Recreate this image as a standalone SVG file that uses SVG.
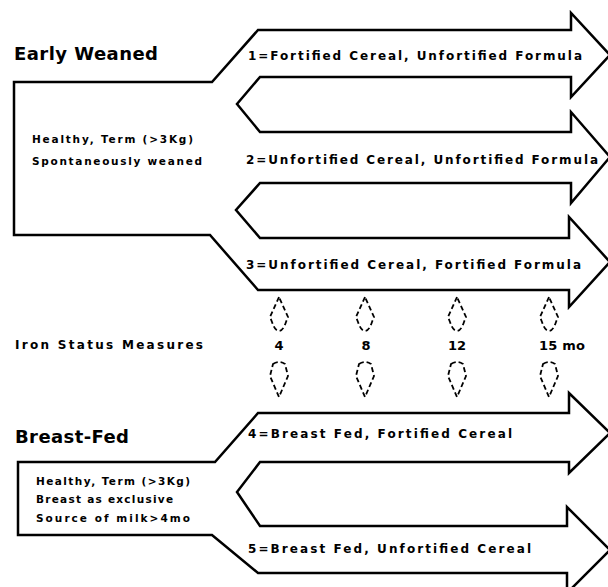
<svg xmlns="http://www.w3.org/2000/svg" xmlns:xlink="http://www.w3.org/1999/xlink" width="608" height="587" viewBox="0 0 608 587">
<style>
.outline{fill:#fff;stroke:#000;stroke-width:2.5;stroke-linejoin:miter}
.head{font-family:"DejaVu Sans","Liberation Sans",sans-serif;font-weight:bold;font-size:18px;fill:#000}
.lbl{font-family:"DejaVu Sans","Liberation Sans",sans-serif;font-weight:bold;font-size:12px;fill:#000}
.sm{font-family:"DejaVu Sans","Liberation Sans",sans-serif;font-weight:bold;font-size:10.5px;fill:#000}
.num{font-family:"DejaVu Sans","Liberation Sans",sans-serif;font-weight:bold;font-size:13px;fill:#000;text-anchor:middle}
.mark{fill:none;stroke:#000;stroke-width:1.8;stroke-dasharray:5 3}
</style>
<defs>
<path id="up" class="mark" d="M0,297 L-9,317 L-7,322 Q-4,331 0,331 Q4,331 7,322 L9,317 Z"/>
<path id="down" class="mark" d="M-6,364 Q0,360 6,364 L8,372 L9,376 L0,397 L-9,376 L-8,372 Z"/>
</defs>
<rect width="608" height="587" fill="#fff"/>

<g id="early-weaned">
<path class="outline" d="M14,82 L212,82 L258,30 L571,30 L571,13 L610,55 L571,97 L571,77 L260,77 L237,104 L260,132 L571,132 L571,112 L610,157 L571,203 L571,183 L260,183 L236,210 L260,238 L569,238 L569,217 L610,262 L569,307 L569,290 L258,290 L210,235 L14,235 Z"/>
<text class="head" x="14" y="60" textLength="144" lengthAdjust="spacing">Early Weaned</text>
<text class="sm" x="32" y="143" textLength="161" lengthAdjust="spacing">Healthy, Term (&gt;3Kg)</text>
<text class="sm" x="32" y="165" textLength="170" lengthAdjust="spacing">Spontaneously weaned</text>
</g>
<g id="arm1"><text class="lbl" x="248" y="60" textLength="334" lengthAdjust="spacing">1=Fortified Cereal, Unfortified Formula</text></g>
<g id="arm2"><text class="lbl" x="246" y="164" textLength="352" lengthAdjust="spacing">2=Unfortified Cereal, Unfortified Formula</text></g>
<g id="arm3"><text class="lbl" x="246" y="269" textLength="335" lengthAdjust="spacing">3=Unfortified Cereal, Fortified Formula</text></g>

<g id="iron-status">
<text class="lbl" x="15" y="349" textLength="188" lengthAdjust="spacing">Iron Status Measures</text>
<text class="num" x="279" y="350">4</text>
<text class="num" x="366" y="350">8</text>
<text class="num" x="457" y="350">12</text>
<text class="num" x="562" y="350" textLength="46" lengthAdjust="spacing">15 mo</text>
</g>

<g id="connectors">
<use xlink:href="#up" transform="translate(279,0)"/>
<use xlink:href="#up" transform="translate(365,0)"/>
<use xlink:href="#up" transform="translate(457,0)"/>
<use xlink:href="#up" transform="translate(549,0)"/>
<use xlink:href="#down" transform="translate(279,0)"/>
<use xlink:href="#down" transform="translate(365,0)"/>
<use xlink:href="#down" transform="translate(457,0)"/>
<use xlink:href="#down" transform="translate(549,0)"/>
</g>

<g id="breast-fed">
<path class="outline" d="M18,462 L215,462 L258,413 L569,413 L569,393 L610,433 L569,473 L569,462 L260,462 L237,492 L260,526 L567,526 L567,507 L610,550 L567,593 L567,573 L258,573 L212,535 L18,535 Z"/>
<text class="head" x="15" y="443" textLength="114" lengthAdjust="spacing">Breast-Fed</text>
<text class="sm" x="36" y="485" textLength="154" lengthAdjust="spacing">Healthy, Term (&gt;3Kg)</text>
<text class="sm" x="36" y="503" textLength="137" lengthAdjust="spacing">Breast as exclusive</text>
<text class="sm" x="36" y="522" textLength="154" lengthAdjust="spacing">Source of milk&gt;4mo</text>
</g>
<g id="arm4"><text class="lbl" x="248" y="438" textLength="264" lengthAdjust="spacing">4=Breast Fed, Fortified Cereal</text></g>
<g id="arm5"><text class="lbl" x="248" y="553" textLength="283" lengthAdjust="spacing">5=Breast Fed, Unfortified Cereal</text></g>
</svg>
